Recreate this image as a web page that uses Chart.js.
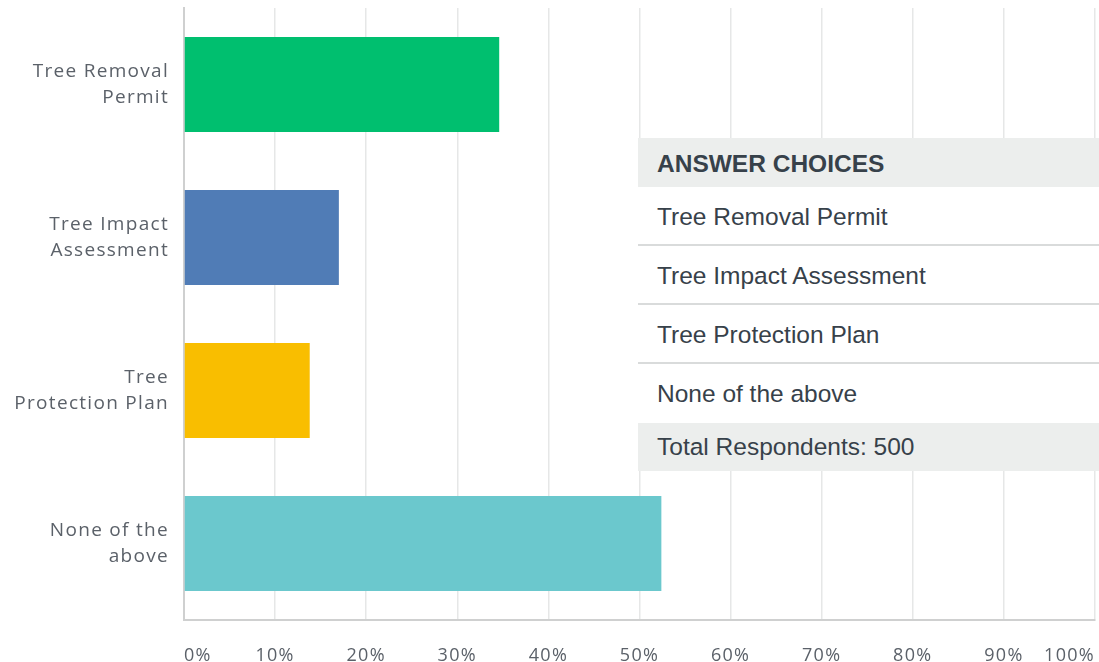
<!DOCTYPE html>
<html>
<head>
<meta charset="utf-8">
<script src="https://cdn.jsdelivr.net/npm/chart.js@4.4.1/dist/chart.umd.min.js"></script>
<style>
    html, body { margin: 0; padding: 0; background: #fff; }
    #wrap { position: relative; width: 1099px; height: 662px; }
    #chart { display: block; }
    /* answer choices box drawn over the plot, like the survey export */
    #choices {
        position: absolute; left: 638px; top: 138px; width: 461px;
        background: #fff; font-family: "Liberation Sans", Arial, sans-serif;
        font-size: 24.5px; color: #37414a;
    }
    #choices div { box-sizing: border-box; padding-left: 19px; white-space: nowrap; }
    #choices .head { height: 49px; line-height: 51px; background: #eceeed; font-weight: bold; }
    #choices .row { height: 59px; line-height: 60px; border-bottom: 2px solid #d9dbdb; }
    #choices .row.last { border-bottom: none; }
    #choices .total { height: 48px; line-height: 48px; background: #eceeed; }
</style>
</head>
<body>
<div id="wrap">
    <canvas id="chart" width="1099" height="662"></canvas>
    <div id="choices"></div>
</div>
<script>
// === Data ===
var categories = ['Tree Removal Permit', 'Tree Impact Assessment', 'Tree Protection Plan', 'None of the above'];
var axisLabels = [['Tree Removal', 'Permit'], ['Tree Impact', 'Assessment'], ['Tree', 'Protection Plan'], ['None of the', 'above']];
var percentValues = [34.6, 17.0, 13.8, 52.4];
var barColors = ['#00bf6f', '#507cb6', '#f9be00', '#6bc8cd'];
var xTicks = [0, 10, 20, 30, 40, 50, 60, 70, 80, 90, 100];
var totalRespondents = 500;

// answer choices table
var box = document.getElementById('choices');
var head = document.createElement('div');
head.className = 'head';
head.textContent = 'ANSWER CHOICES';
box.appendChild(head);
categories.forEach(function(c, i) {
    var row = document.createElement('div');
    row.className = 'row' + (i === categories.length - 1 ? ' last' : '');
    row.textContent = c;
    box.appendChild(row);
});
var tot = document.createElement('div');
tot.className = 'total';
tot.textContent = 'Total Respondents: ' + totalRespondents;
box.appendChild(tot);

// wider tracking on the axis text
var spacing = {
    id: 'spacing',
    beforeUpdate: function(chart) { chart.ctx.letterSpacing = '1.3px'; },
    beforeDraw: function(chart) { chart.ctx.letterSpacing = '1.3px'; }
};

var labelColor = '#5b6169';

new Chart(document.getElementById('chart').getContext('2d'), {
    type: 'bar',
    data: {
        labels: axisLabels,
        datasets: [{
            data: percentValues,
            backgroundColor: barColors,
            borderWidth: 0,
            categoryPercentage: 1,
            barPercentage: 0.622
        }]
    },
    options: {
        indexAxis: 'y',
        responsive: false,
        animation: false,
        layout: { padding: { top: 8, right: 4, left: 0, bottom: 0 } },
        plugins: { legend: { display: false }, tooltip: { enabled: false } },
        scales: {
            x: {
                min: 0,
                max: 100,
                afterBuildTicks: function(s) { s.ticks = xTicks.map(function(v) { return { value: v }; }); },
                afterFit: function(s) {
                    s.height = 42;
                    s.paddingLeft = 0;
                    s.paddingRight = 0;
                },
                grid: { color: '#e6e7e7', lineWidth: 1.5, drawTicks: false },
                border: { display: true, color: '#cfd0d0', width: 2 },
                ticks: {
                    align: 'inner',
                    padding: 25,
                    color: labelColor,
                    font: { family: 'Open Sans', size: 18 },
                    callback: function(v) { return v + '%'; }
                }
            },
            y: {
                afterFit: function(s) {
                    s.width = 184;
                    s.paddingTop = 0;
                    s.paddingBottom = 0;
                },
                grid: { display: false, drawTicks: false },
                border: { display: true, color: '#cfd0d0', width: 2 },
                ticks: {
                    padding: 15,
                    color: labelColor,
                    font: { family: 'Open Sans', size: 19, lineHeight: 1.37 }
                }
            }
        }
    },
    plugins: [spacing]
});
</script>
</body>
</html>
